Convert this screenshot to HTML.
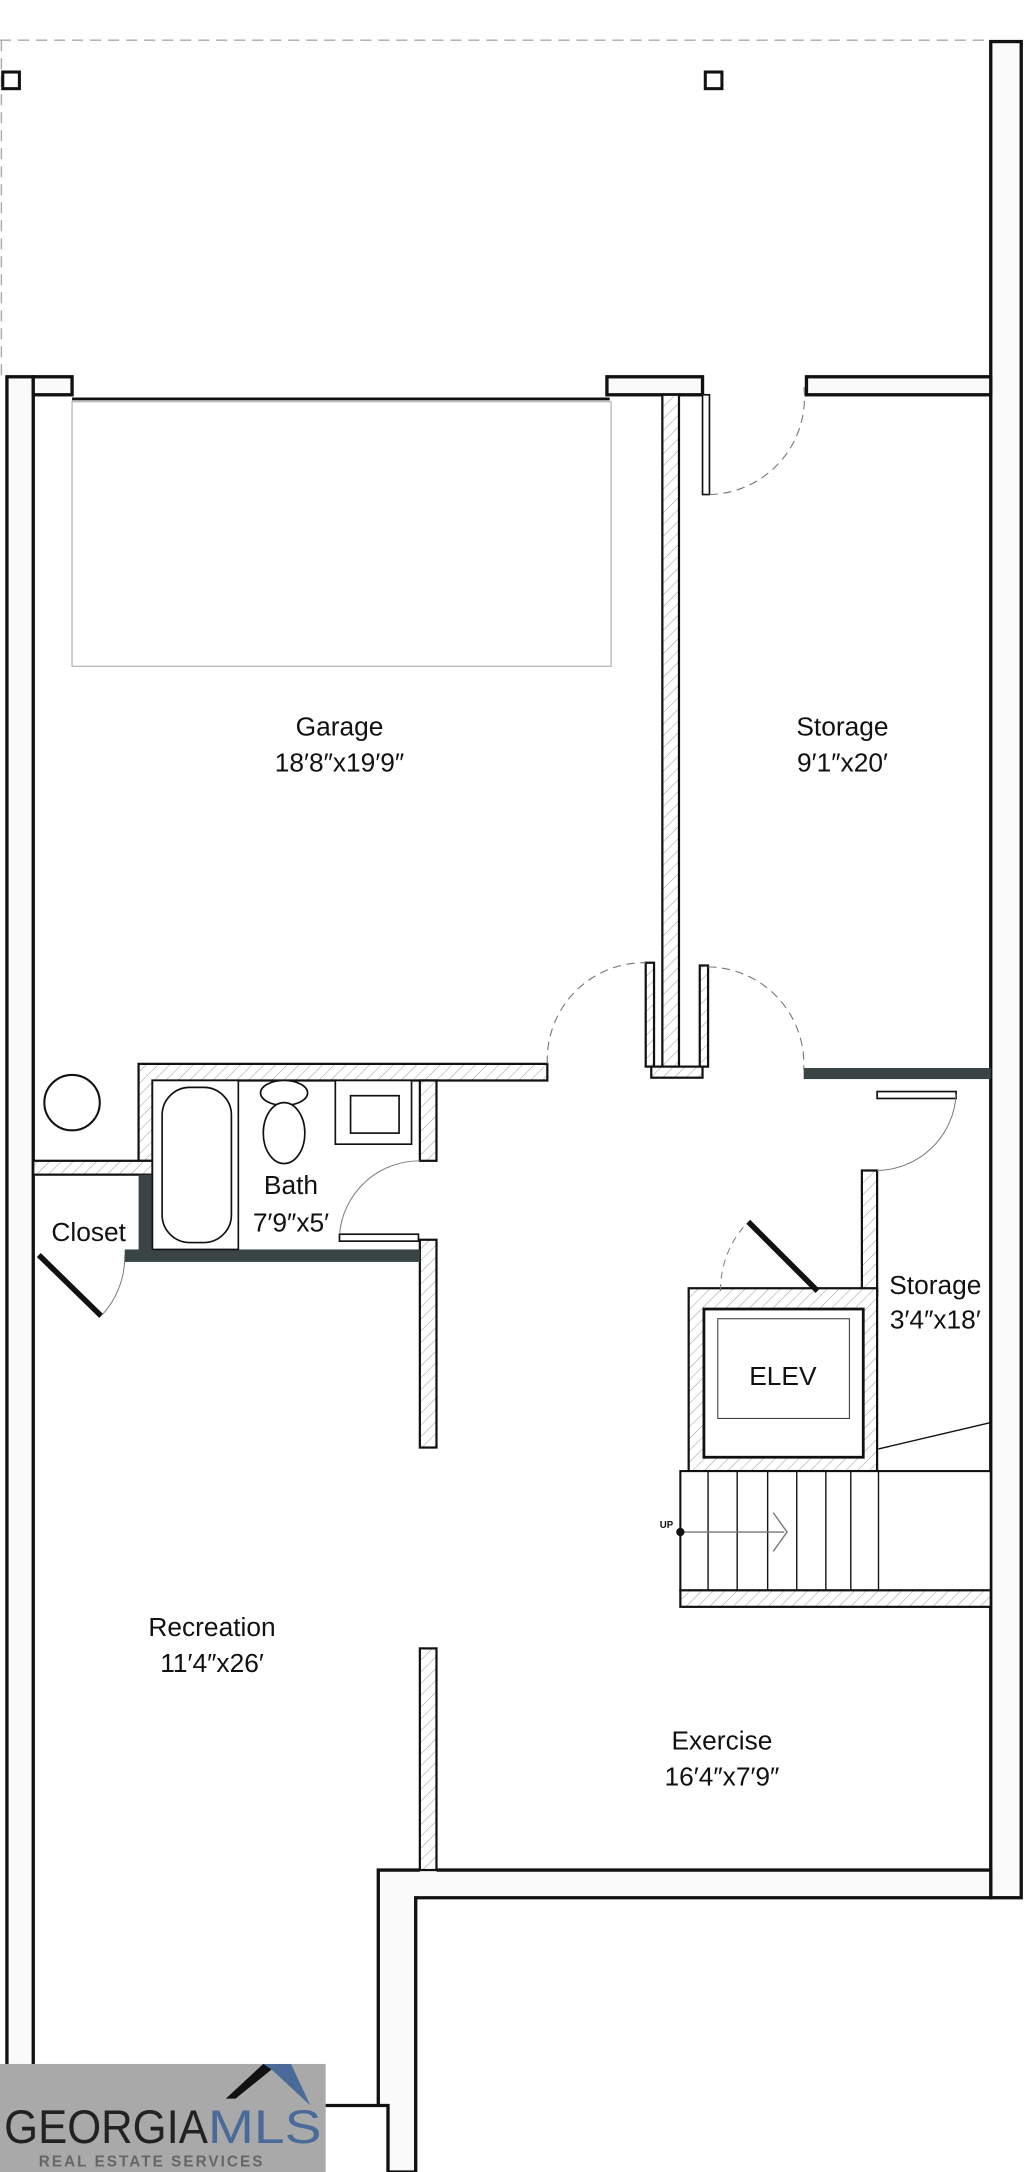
<!DOCTYPE html>
<html><head><meta charset="utf-8"><style>
html,body{margin:0;padding:0;background:#fff;}
svg{display:block;}
text{font-family:"Liberation Sans",sans-serif;fill:#111;}
</style></head><body>
<svg width="1024" height="2172" viewBox="0 0 739 1568" preserveAspectRatio="none" xmlns="http://www.w3.org/2000/svg">
<defs>
<pattern id="h" width="6" height="6" patternUnits="userSpaceOnUse" patternTransform="rotate(45)">
<rect width="6" height="6" fill="#fff"/><line x1="0" y1="0" x2="0" y2="6" stroke="#999" stroke-width="0.7"/>
</pattern>
</defs>
<line x1="0" y1="29" x2="715" y2="29" stroke="#aaa" stroke-dasharray="8,5" stroke-width="1"/>
<line x1="1" y1="29" x2="1" y2="272" stroke="#aaa" stroke-dasharray="8,5" stroke-width="1"/>
<rect x="2" y="52" width="12" height="12" fill="#fff" stroke="#111" stroke-width="2.2"/>
<rect x="509" y="52" width="12" height="12" fill="#fff" stroke="#111" stroke-width="2.2"/>
<g fill="#fafafa" stroke="#111" stroke-width="2.4">
<rect x="715" y="30" width="22" height="1340"/>
<rect x="5" y="272" width="19" height="1300"/>
<rect x="24" y="272" width="28" height="13"/>
<rect x="438" y="272" width="69" height="13"/>
<rect x="582" y="272" width="133" height="13"/>
<path d="M315 1350 H715 V1370 H300 V1568 H280 V1520 H235 V1520 H273 V1350 H303"/>
</g>
<line x1="52" y1="288" x2="440" y2="288" stroke="#111" stroke-width="2"/>
<rect x="52" y="290" width="389" height="191" fill="none" stroke="#bbb" stroke-width="1"/>
<g fill="url(#h)" stroke="#111" stroke-width="1.6">
<rect x="478" y="285" width="12" height="490"/>
<rect x="466" y="695" width="6" height="75"/>
<rect x="505" y="697" width="6" height="73"/>
<rect x="470" y="770" width="37" height="8"/>
<path d="M100 768 H395 V780 H110 V838 H100 Z"/>
<rect x="24" y="838" width="86" height="10"/>
<rect x="303" y="780" width="12" height="58"/>
<rect x="303" y="895" width="12" height="150"/>
<rect x="622" y="845" width="11" height="90"/>
<rect x="303" y="1190" width="12" height="160"/>
<rect x="491" y="1148" width="224" height="12"/>
<rect x="497" y="930" width="136" height="132"/>
</g>
<rect x="90" y="902" width="213" height="9" fill="#3a4444"/>
<rect x="100" y="848" width="10" height="56" fill="#3a4444"/>
<rect x="580" y="771" width="135" height="8" fill="#3a4444"/>
<rect x="507" y="285" width="5" height="72" fill="#fff" stroke="#111" stroke-width="1.2"/>
<path d="M512 357 A70 70 0 0 0 580 278" fill="none" stroke="#777" stroke-dasharray="6,4" stroke-width="0.8"/>
<path d="M395 768 A70 70 0 0 1 466 695" fill="none" stroke="#777" stroke-dasharray="6,4" stroke-width="0.8"/>
<path d="M511 698 A70 70 0 0 1 580 772" fill="none" stroke="#777" stroke-dasharray="6,4" stroke-width="0.8"/>
<rect x="633" y="788" width="57" height="5" fill="#fff" stroke="#111" stroke-width="1.2"/>
<path d="M690 790 A58 58 0 0 1 633 845" fill="none" stroke="#777" stroke-width="0.7"/>
<rect x="245" y="891" width="57" height="5" fill="#fff" stroke="#111" stroke-width="1.2"/>
<path d="M245 891 A58 58 0 0 1 303 838" fill="none" stroke="#777" stroke-width="0.7"/>
<line x1="28" y1="906" x2="73" y2="950" stroke="#111" stroke-width="4"/>
<path d="M73 950 A62 62 0 0 0 90 906" fill="none" stroke="#777" stroke-width="0.7"/>
<line x1="540" y1="882" x2="590" y2="932" stroke="#111" stroke-width="4"/>
<path d="M520 932 A70 70 0 0 1 540 882" fill="none" stroke="#777" stroke-dasharray="5,4" stroke-width="0.7"/>
<circle cx="52" cy="796" r="20" fill="#fff" stroke="#111" stroke-width="1.5"/>
<rect x="110" y="780" width="62" height="122" fill="#fff" stroke="#111" stroke-width="1.2"/>
<rect x="117" y="785" width="50" height="112" rx="20" fill="#fff" stroke="#111" stroke-width="1.2"/>
<ellipse cx="205" cy="789" rx="17" ry="9" fill="#fff" stroke="#111" stroke-width="1.2"/>
<ellipse cx="205" cy="818" rx="15" ry="22" fill="#fff" stroke="#111" stroke-width="1.2"/>
<rect x="242" y="780" width="55" height="46" fill="#fff" stroke="#111" stroke-width="1.2"/>
<rect x="253" y="791" width="35" height="27" fill="#fff" stroke="#111" stroke-width="1.2"/>
<rect x="508" y="945" width="115" height="107" fill="#fff" stroke="#111" stroke-width="2"/>
<rect x="518" y="952" width="95" height="72" fill="#fff" stroke="#444" stroke-width="0.8"/>
<rect x="491" y="1062" width="224" height="86" fill="#fff" stroke="#111" stroke-width="1.5"/>
<g stroke="#111" stroke-width="1">
<line x1="511" y1="1062" x2="511" y2="1148"/><line x1="532" y1="1062" x2="532" y2="1148"/>
<line x1="554" y1="1062" x2="554" y2="1148"/><line x1="575" y1="1062" x2="575" y2="1148"/>
<line x1="596" y1="1062" x2="596" y2="1148"/><line x1="614" y1="1062" x2="614" y2="1148"/>
<line x1="634" y1="1062" x2="634" y2="1148"/>
<line x1="634" y1="1046" x2="715" y2="1027"/>
<line x1="491" y1="1106" x2="566" y2="1106" stroke="#777"/>
</g>
<path d="M558 1092 L568 1106 L558 1120" fill="none" stroke="#777" stroke-width="1"/>
<circle cx="491" cy="1106" r="3" fill="#111"/>
<text x="481" y="1103" font-size="7" font-weight="bold" text-anchor="middle">UP</text>
<g font-size="19" text-anchor="middle">
<text x="245" y="531">Garage</text><text x="245" y="557">18′8″x19′9″</text>
<text x="608" y="531">Storage</text><text x="608" y="557">9′1″x20′</text>
<text x="210" y="862">Bath</text><text x="210" y="889">7′9″x5′</text>
<text x="64" y="896">Closet</text>
<text x="675" y="934">Storage</text><text x="675" y="959">3′4″x18′</text>
<text x="565" y="1000">ELEV</text>
<text x="153" y="1181">Recreation</text><text x="153" y="1207">11′4″x26′</text>
<text x="521" y="1263">Exercise</text><text x="521" y="1289">16′4″x7′9″</text>
</g>
<rect x="0" y="1490" width="235" height="78" fill="#a9a9a9"/>
<path d="M163 1515 L190 1490 L210 1490 L224 1520 L196 1494 Z" fill="#4a6a9a"/>
<path d="M163 1515 L190 1490 L196 1494 L170 1515 Z" fill="#111"/>
<text x="3" y="1547" font-size="34" style="fill:#222" textLength="147" lengthAdjust="spacingAndGlyphs">GEORGIA</text>
<text x="150" y="1547" font-size="34" style="fill:#4a6a9a" textLength="82" lengthAdjust="spacingAndGlyphs">MLS</text>
<text x="28" y="1564" font-size="11" font-weight="bold" style="fill:#666" letter-spacing="1.5">REAL ESTATE SERVICES</text>
</svg>
</body></html>
